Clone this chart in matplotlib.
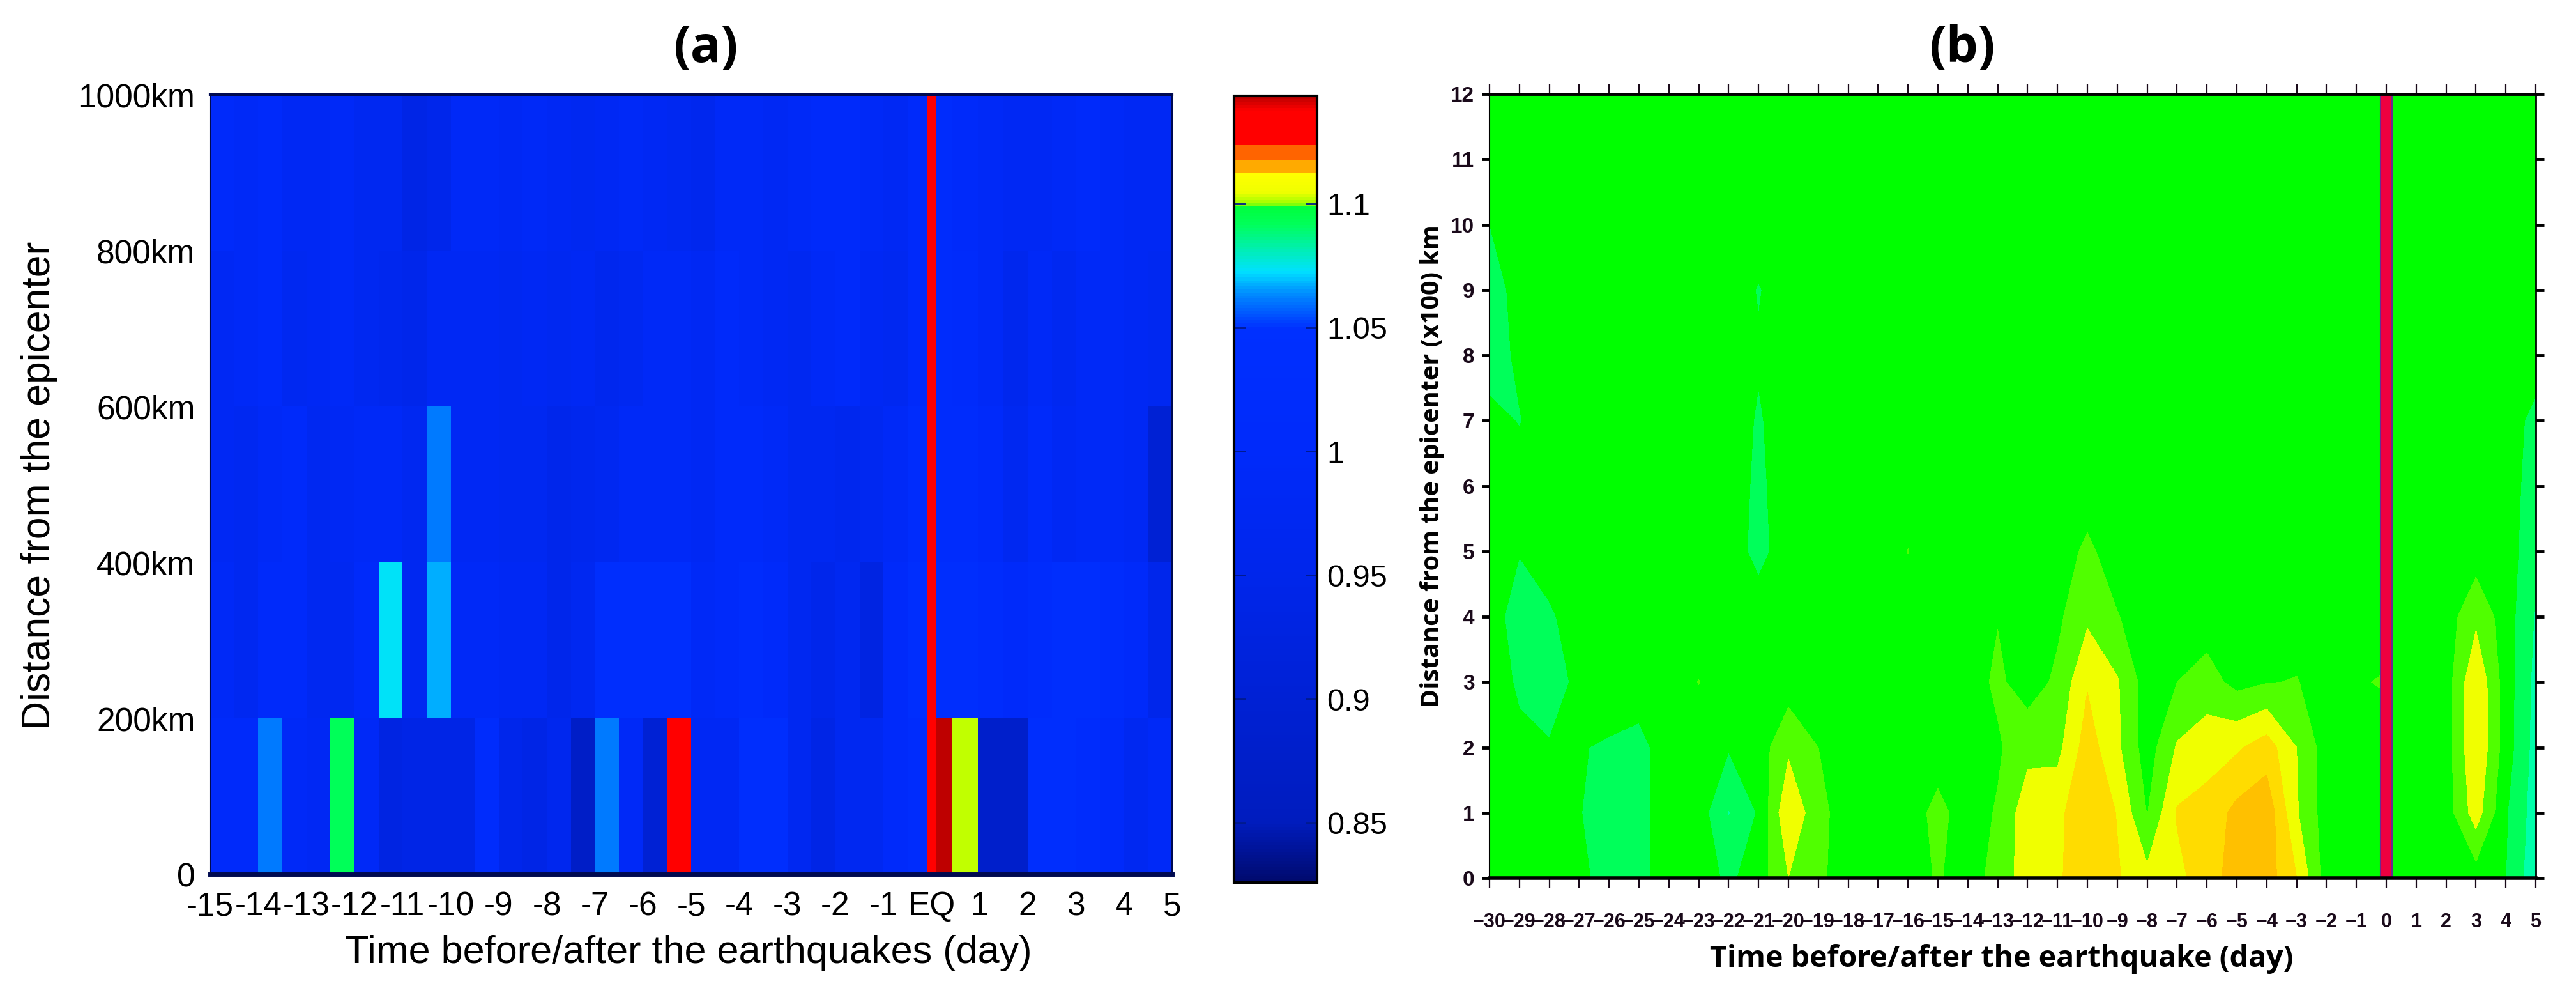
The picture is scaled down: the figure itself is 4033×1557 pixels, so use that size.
import numpy as np
import matplotlib
matplotlib.use("Agg")
import matplotlib.pyplot as plt
from matplotlib.colors import LinearSegmentedColormap, Normalize

W, H = 4033, 1557

# ---------- panel (a) data ----------
time_edges_a = [-15, -14.5, -14, -13.5, -13, -12.5, -12, -11.5, -11, -10.5, -10, -9.5, -9, -8.5, -8, -7.5,
                -7, -6.5, -6, -5.5, -5, -4.5, -4, -3.5, -3, -2.5, -2, -1.5, -1, -0.5, -0.1, 0.1, 0.42, 0.96,
                1.5, 2, 2.5, 3, 3.5, 4, 4.5, 5]
dist_edges_a = [0, 200, 400, 600, 800, 1000]
ratio_0_200 = [1.0, 1.0, 1.061, .99, .98, 1.092, .99, .93, .94, .94, .94, 1.02, .95, .94, .96, .87,
               1.061, .99, .90, 1.135, .98, .98, 1.03, 1.03, .97, .94, .97, .97, 1.0, 1.02, 1.135, 1.1435, 1.1015, .88,
               .88, 1.03, 1.03, 1.02, 1.0, .97, .99]
ratio_200_400 = [.99, .97, 1.0, 1.0, .97, .97, 1.0, 1.073, .97, 1.067, .99, .99, .98, .98, .95, .97,
                 1.03, 1.03, 1.03, 1.03, .99, 1.0, 1.02, 1.0, .97, .95, .97, .93, 1.0, 1.03, 1.135, 1.03, 1.03, 1.02,
                 1.0, 1.02, 1.03, 1.03, 1.02, 1.0, .95]
ratio_400_600 = [.98, .97, .99, 1.0, .97, .98, .99, .99, .97, 1.061, .98, .98, .97, .97, .95, .96,
                 .97, .99, .99, .99, .98, 1.0, 1.0, .99, .97, .97, .96, .97, .99, 1.02, 1.135, 1.02, 1.02, 1.0,
                 .97, 1.0, .98, .99, .99, .98, .90]
ratio_600_800 = [.98, .99, 1.0, .97, .98, .99, .97, .96, .95, .98, .98, .98, .97, .98, .97, .98,
                 .96, .97, .99, .99, .98, 1.0, .99, .98, .97, .99, 1.0, .98, .97, 1.0, 1.135, 1.02, 1.01, .99,
                 .96, .99, .97, .99, .99, .98, .97]
ratio_800_1000 = [1.0, .99, 1.0, .98, .98, .99, .97, .97, .94, .95, .99, .99, .98, .99, .98, .97,
                  .98, .99, .98, .97, .96, .99, .99, .98, .99, 1.0, 1.0, .99, .98, 1.0, 1.135, 1.02, 1.0, .99,
                  .98, .98, .99, 1.0, .99, .98, .98]
ticks_time_a = list(range(-15, 6))
ticklabels_time_a = ['-15', '-14', '-13', '-12', '-11', '-10', '-9', '-8', '-7', '-6', '-5', '-4', '-3', '-2', '-1',
                     'EQ', '1', '2', '3', '4', '5']
ticks_dist_a = [0, 200, 400, 600, 800, 1000]
ticklabels_dist_a = ['0', '200km', '400km', '600km', '800km', '1000km']
cbar_ticks = [0.85, 0.9, 0.95, 1, 1.05, 1.1]
cbar_labels = ['0.85', '0.9', '0.95', '1', '1.05', '1.1']

# ---------- panel (b) data: one row per 100 km, days -30 ... 5 ----------
days_b = list(range(-30, 6))
dist_b = list(range(0, 13))
#            -30   -29   -28   -27   -26   -25  -24  -23   -22    -21    -20  -19 -18 -17  -16  -15 -14  -13  -12  -11   -10   -9    -8   -7   -6   -5    -4   -3  -2   -1   0  1  2    3      4     5
anom_000 = [   0,    0,    0, -.2,   -1,  -.8,   0,   0,  -.7,    0,   1.5,  .7,  0,  0,   0,  .6,  0,  .9,  2.0, 2.3,  3.4,  2.6,  1.8, 2.2, 3.1, 3.9,  4.0, 2.5, 0,   0,  0, 0, 0,   0,    -.5, -2.2]
anom_100 = [   0,    0,    0, -.45,  -1,  -.8,   0,   0, -1.55, -.4,   2.4,  .8,  0,  0,   0,  .8,  0,  .6,  2.1, 2.2,  3.4,  2.45, .45, 2.6, 2.85,3.8,  4.2, 1.6, 0,   0,  0, 0, 0,   2.0,  -.4, -2.0]
anom_200 = [   0,  -.2, -.45, -.45, -.6, -.8,   0,   0,  -.42,  0,   1.3,  .5,  0,  0,   0,  0,   0,  .35, 1.2, 1.2,  3.0,  1.7,  0,   1.6, 2.1, 2.35, 3.0, 1.5, 0,   0,  0, 0, 0,   2.45,  0,  -1.9]
anom_300 = [ 0.2,  -.7,  -.8, -.35,  0,   0,    0,  .52,  0,    0,   0,    0,   0,  0,   0,  0,   0,  .7,  0,   .7,   2.41, 1.6,  0,   .5,  .9,  .2,   .45, .55, 0,  .4, .6, 0, 0,   2.4,   0,  -1.8]
anom_400 = [   0,   -1,  -.65, 0,    0,   0,    0,   0,   0,    0,   0,    0,   0,  0,   0,  0,   0,  .45, 0,   .3,   1.3,  .55,  0,   0,   0,   0,    0,   0,  0,   0,  0, 0, 0,   1.275, 0,  -1.6]
anom_500 = [   0,  -.45,  0,   0,    0,   0,    0,   0,   0,  -.8,   0,    0,   0,  0,  .52, 0,   0,  0,   0,   0,    .7,   0,    0,   0,   0,   0,    0,   0,  0,   0,  0, 0, 0,   0,     0,  -1.2]
anom_600 = [   0,    0,    0,  0,    0,   0,    0,   0,   0,   -.7,  0,    0,   0,  0,   0,  0,   0,  0,   0,   0,    0,    0,    0,   0,   0,   0,    0,   0,  0,   0,  0, 0, 0,   0,     0,  -1.0]
anom_700 = [ -.2,  -.55,   0,  0,    0,   0,    0,   0,   0,   -.6,  0,    0,   0,  0,   0,  0,   0,  0,   0,   0,    0,    0,    0,   0,   0,   0,    0,   0,  0,   0,  0, 0, 0,   0,     0,   -.8]
anom_800 = [  -1,  -.3,    0,  0,    0,   0,    0,   0,   0,   -.4,  0,    0,   0,  0,   0,  0,   0,  0,   0,   0,    0,    0,    0,   0,   0,   0,    0,   0,  0,   0,  0, 0, 0,   0,     0,    0]
anom_900 = [ -.9,  -.2,    0,  0,    0,   0,    0,   0,   0,   -.56, 0,    0,   0,  0,   0,  0,   0,  0,   0,   0,    0,    0,    0,   0,   0,   0,    0,   0,  0,   0,  0, 0, 0,   0,     0,    0]
anom_1000 = [-.5,    0,    0,  0,    0,   0,    0,   0,   0,    0,   0,    0,   0,  0,   0,  0,   0,  0,   0,   0,    0,    0,    0,   0,   0,   0,    0,   0,  0,   0,  0, 0, 0,   0,     0,    0]
anom_1100 = [0] * 36
anom_1200 = [0] * 36
eq_day = 0
eq_halfwidth = 0.19
ticklabels_dist_b = [str(v) for v in dist_b]
ticklabels_time_b = [('\u2212' + str(-d)) if d < 0 else str(d) for d in days_b]


def place(x0, y0, x1, y1):
    return [x0 / W, 1 - y1 / H, (x1 - x0) / W, (y1 - y0) / H]


plt.rcParams['font.family'] = ['Liberation Sans', 'DejaVu Sans']
fig = plt.figure(figsize=(W / 100, H / 100), dpi=100, facecolor='white')

# ---------- panel (a) ----------
vmin, vmax = 0.826, 1.1435
anchors = [(.826, (0, 10, 110)), (.85, (0, 28, 190)), (.95, (0, 38, 235)), (1.0, (0, 42, 250)), (1.05, (0, 48, 255)),
           (1.064, (0, 140, 255)), (1.073, (0, 225, 255)), (1.092, (0, 255, 90)), (1.0995, (0, 255, 60)),
           (1.1, (150, 255, 0)), (1.105, (240, 255, 0)), (1.113, (255, 255, 0)), (1.113, (255, 170, 0)),
           (1.118, (255, 170, 0)), (1.118, (255, 100, 0)), (1.124, (255, 100, 0)), (1.124, (255, 0, 0)),
           (1.138, (255, 0, 0)), (1.1435, (190, 0, 0))]
cmap_a = LinearSegmentedColormap.from_list(
    'ratio', [((v - vmin) / (vmax - vmin), tuple(c / 255 for c in rgb)) for v, rgb in anchors], N=256)

ax = fig.add_axes(place(329, 148, 1835, 1368))
grid_a = np.array([ratio_0_200, ratio_200_400, ratio_400_600, ratio_600_800, ratio_800_1000])
mesh = ax.pcolormesh(time_edges_a, dist_edges_a, grid_a, cmap=cmap_a, norm=Normalize(vmin, vmax), shading='flat')
ax.set_xlim(-15, 5)
ax.set_ylim(0, 1000)
ax.set_xticks(ticks_time_a, ticklabels_time_a)
ax.set_yticks(ticks_dist_a, ticklabels_dist_a)
ax.tick_params(axis='x', length=0, pad=19, labelsize=37, colors='black')
ax.tick_params(axis='y', length=0, pad=17, labelsize=37, colors='black')
for s in ax.spines.values():
    s.set_color('#000a50')
    s.set_linewidth(1.5)
ax.spines['bottom'].set_linewidth(5)
ax.spines['top'].set_linewidth(3)
fig.text(1078 / W, 1 - 1491 / H, 'Time before/after the earthquakes (day)', fontsize=44, ha='center', va='center')
fig.text(62 / W, 1 - 760 / H, 'Distance from the epicenter', fontsize=45, rotation=90, ha='center', va='center')
fig.text(1106 / W, 1 - 77 / H, '(a)', fontsize=57, fontweight='bold', family='Open Sans', ha='center', va='center')

cax = fig.add_axes(place(1932, 150, 2062, 1381))
cb = fig.colorbar(mesh, cax=cax)
cb.set_ticks(cbar_ticks, labels=cbar_labels)
cax.tick_params(axis='y', direction='in', length=13, width=2, left=True, right=True, pad=11, labelsize=35,
                color='#001a90')
for tick in cax.yaxis.get_major_ticks()[-1:]:
    tick.tick1line.set_color('black')
    tick.tick2line.set_color('black')
cb.outline.set_edgecolor('black')
cb.outline.set_linewidth(3)

# ---------- panel (b) ----------
bx = fig.add_axes(place(2332, 147, 3970, 1374))
grid_b = np.array([anom_000, anom_100, anom_200, anom_300, anom_400, anom_500, anom_600,
                   anom_700, anom_800, anom_900, anom_1000, anom_1100, anom_1200])
levels_b = [-3, -1.5, -.5, .5, 1.5, 2.5, 3.5, 5]
colors_b = ['#00ffaa', '#00ff5a', '#00ff00', '#50ff00', '#f0ff00', '#ffdc00', '#ffc000']
bx.contourf(days_b, dist_b, grid_b, levels=levels_b, colors=colors_b)
bx.axvspan(eq_day - eq_halfwidth, eq_day + eq_halfwidth, facecolor='#ee0040', edgecolor='#6a2a90', linewidth=1.5)
bx.set_xlim(-30, 5)
bx.set_ylim(0, 12)
bx.set_xticks(days_b, ticklabels_time_b)
bx.set_yticks(dist_b, ticklabels_dist_b)
bx.tick_params(axis='x', which='both', direction='out', length=11, width=1.6, top=True, bottom=True, pad=28,
               labelsize=22, color='#1a0a1a', labelcolor='#1a0a1a')
bx.tick_params(axis='y', direction='out', length=9, width=3.5, left=True, right=True, pad=8,
               labelsize=24, color='black', labelcolor='#1a0a1a')
for lab in bx.get_xticklabels() + bx.get_yticklabels():
    lab.set_fontweight('bold')
for side, lw in [('top', 3.5), ('bottom', 4), ('left', 1.5), ('right', 2)]:
    bx.spines[side].set_color('black')
    bx.spines[side].set_linewidth(lw)
fig.text(3134 / W, 1 - 1501 / H, 'Time before/after the earthquake (day)', fontsize=33.5, fontweight='bold',
         family='Open Sans', ha='center', va='center')
fig.text(2243 / W, 1 - 729 / H, 'Distance from the epicenter (x100) km', fontsize=28.5, fontweight='bold',
         family='Open Sans', rotation=90, ha='center', va='center')
fig.text(3073 / W, 1 - 77 / H, '(b)', fontsize=57, fontweight='bold', family='Open Sans', ha='center', va='center')

fig.savefig('out.png', dpi=100)
